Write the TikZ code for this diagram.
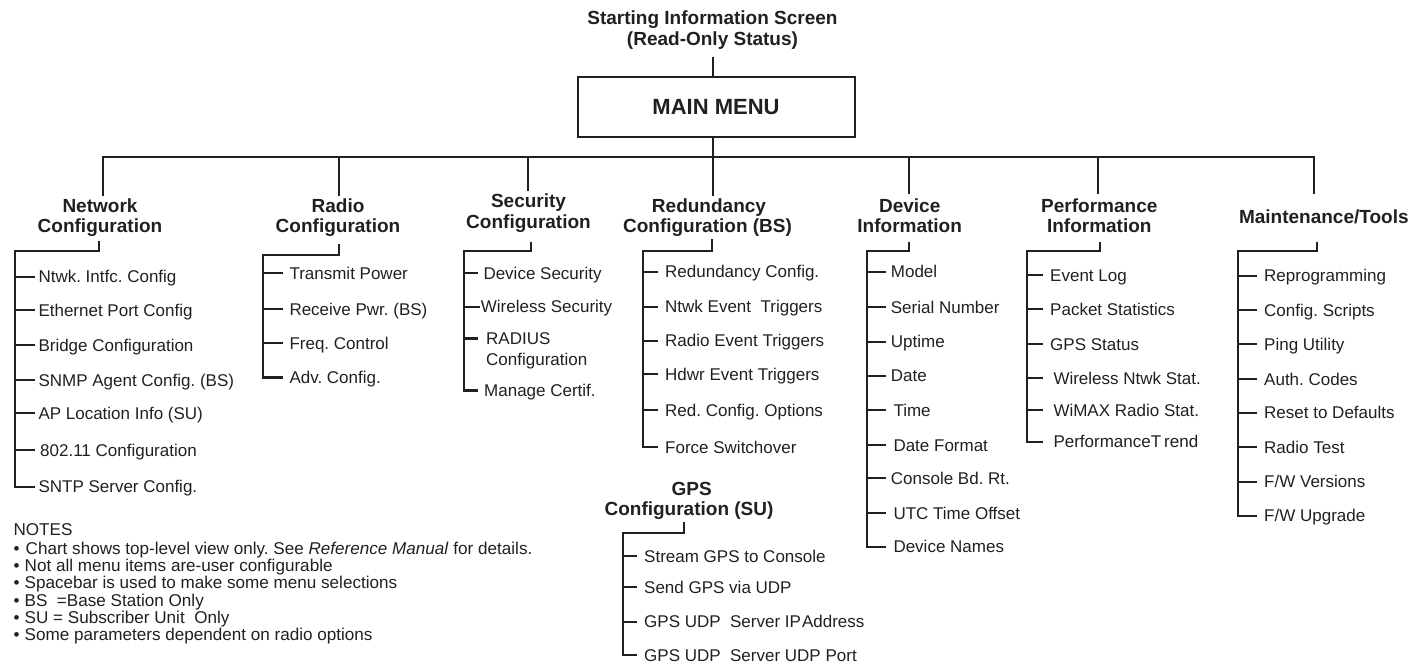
\documentclass[tikz,border=0pt]{standalone}
\usepackage{fontspec}
\setmainfont{Liberation Sans}
\definecolor{ink}{RGB}{35,31,32}
\frenchspacing
\begin{document}
\begin{tikzpicture}[x=1pt,y=-1pt,
  line/.style={draw=ink,line width=2.2pt,line join=miter},
  item/.style={anchor=west,inner sep=0pt,text height=12pt,text depth=0pt,font=\fontsize{17}{20}\selectfont,text=ink},
  hdr/.style={anchor=base,inner sep=0pt,font=\bfseries\fontsize{19}{20}\selectfont,text=ink},
  menubox/.style={draw=ink,line width=2pt,minimum width=277pt,minimum height=60pt,inner sep=0pt,font=\bfseries\fontsize{22}{24}\selectfont,text=ink},
  note/.style={anchor=base west,inner sep=0pt,font=\fontsize{17.1}{17.1}\selectfont,text=ink}
]
\useasboundingbox (0,0) rectangle (1427,667);

% title and main menu
\node[hdr] (t1) at (712.5,24) {Starting Information Screen};
\node[hdr] (t2) at (712.5,45.5) {(Read-Only Status)};
\node[menubox] (mm) at (716,106.7) {MAIN MENU};
\coordinate (tb) at (712.7,57);
\draw[line] (tb) -- (tb |- mm.north);
\coordinate (busC) at (712.7,157);
\draw[line] (busC |- mm.south) -- (712.7,196);

% bus and drops
\draw[line] (103,196) -- (103,157) -- (1314.3,157) -- (1314.3,194);
\draw[line] (338.8,157) -- (338.8,196);
\draw[line] (528,157) -- (528,191);
\draw[line] (908.8,157) -- (908.8,194);
\draw[line] (1097.8,157) -- (1097.8,194);

% headers
\node[hdr] (netA) at (100,212.3) {Network};
\node[hdr] (netB) at (100,232.7) {Configuration};
\node[hdr] (radA) at (338,212.3) {Radio};
\node[hdr] (radB) at (338,232.7) {Configuration};
\node[hdr] (secA) at (528.5,207.7) {Security};
\node[hdr] (secB) at (528.5,228) {Configuration};
\node[hdr] (redA) at (709,212.3) {Redundancy};
\node[hdr] (redB) at (707.5,232.7) {Configuration (BS)};
\node[hdr] (devA) at (909.7,212.3) {Device};
\node[hdr] (devB) at (909.7,232.7) {Information};
\node[hdr] (perA) at (1099.3,212.3) {Performance};
\node[hdr] (perB) at (1099.3,232.7) {Information};
\node[hdr] (mnt) at (1323.8,223.3) {Maintenance/Tools};
\node[hdr] (gpsA) at (691.7,495) {GPS};
\node[hdr] (gpsB) at (689,515) {Configuration (SU)};

% Network
\draw[line] (99,241) -- (99,250.7) -- (15,250.7) -- (15,486.7) -- (35,486.7);
\foreach \y/\t [count=\i] in {276.7/{Ntwk. Intfc. Config},310/{Ethernet Port Config},345/{Bridge Configuration},380/{SNMP Agent Config. (BS)},413.3/{AP Location Info (SU)},486.7/{SNTP Server Config.}}{
  \node[item] (net\i) at (38.3,\y) {\t};
  \draw[line] (15,\y) -- ([xshift=-3.3pt]net\i.west);
}
\node[item] (net7) at (40,450) {802.11 Configuration};
\draw[line] (15,450) -- ([xshift=-5pt]net7.west);

% Radio
\draw[line] (339.3,244) -- (339.3,255) -- (263.3,255) -- (263.3,377.5) -- (283.3,377.5);
\foreach \y/\t [count=\i] in {273.3/{Transmit Power},309/{Receive Pwr. (BS)},343.3/{Freq. Control}}{
  \node[item] (rad\i) at (289.3,\y) {\t};
  \draw[line] (263.3,\y) -- ([xshift=-6pt]rad\i.west);
}
\node[item] (rad4) at (289.3,377.5) {Adv. Config.};

% Security
\draw[line] (531,241.7) -- (531,250.7) -- (464.3,250.7) -- (464.3,390.5) -- (478,390.5);
\node[item] (sec1) at (483.3,273) {Device Security};
\draw[line] (464.3,273) -- ([xshift=-5pt]sec1.west);
\node[item] (sec2) at (480.7,306.7) {Wireless Security};
\draw[line] (464.3,306.7) -- ([xshift=-0.7pt]sec2.west);
\node[item] (sec3) at (486,338) {RADIUS};
\node[item] (sec3b) at (486,359.3) {Configuration};
\draw[line] (464.3,338.5) -- (478,338.5);
\node[item] (sec4) at (484,390.5) {Manage Certif.};

% Redundancy
\draw[line] (712.3,239.3) -- (712.3,250.7) -- (643.3,250.7) -- (643.3,447) -- (658.3,447);
\foreach \y/\t [count=\i] in {271.7/{Redundancy Config.},306.7/{Ntwk Event\ \ Triggers},340.7/{Radio Event Triggers},374/{Hdwr Event Triggers},410/{Red. Config. Options}}{
  \node[item] (red\i) at (665,\y) {\t};
  \draw[line] (643.3,\y) -- ([xshift=-6.7pt]red\i.west);
}
\node[item] (red6) at (665,447) {Force Switchover};

% Device
\draw[line] (909,241.7) -- (909,250.7) -- (867.3,250.7) -- (867.3,546.7) -- (886,546.7);
\foreach \x/\y/\t [count=\i] in {890.7/271.7/{Model},890.7/307.3/{Serial Number},890.7/341.7/{Uptime},890.7/375.7/{Date},893.3/410/{Time},893.3/445/{Date Format},890.7/478.3/{Console Bd. Rt.},893.3/513.3/{UTC Time Offset}}{
  \node[item] (dev\i) at (\x,\y) {\t};
  \draw[line] (867.3,\y) -- (886,\y);
}
\node[item] (dev9) at (893.3,546.7) {Device Names};

% Performance
\draw[line] (1100,241.7) -- (1100,250.7) -- (1026.7,250.7) -- (1026.7,441.7) -- (1043.3,441.7);
\foreach \x/\y/\t [count=\i] in {1050/275/{Event Log},1050/309.3/{Packet Statistics},1050/344/{GPS Status},1053.3/378.3/{Wireless Ntwk Stat.},1053.3/410/{WiMAX Radio Stat.}}{
  \node[item] (per\i) at (\x,\y) {\t};
  \draw[line] (1026.7,\y) -- (1043.3,\y);
}
\node[item] (per6) at (1053.3,441.7) {PerformanceT\kern3pt rend};

% Maintenance
\draw[line] (1316.7,241.7) -- (1316.7,250.7) -- (1237.7,250.7) -- (1237.7,515.7) -- (1257.3,515.7);
\foreach \y/\t [count=\i] in {275.7/{Reprogramming},310/{Config. Scripts},344/{Ping Utility},379/{Auth. Codes},412.7/{Reset to Defaults},447.3/{Radio Test},481.7/{F/W Versions}}{
  \node[item] (mnt\i) at (1264,\y) {\t};
  \draw[line] (1237.7,\y) -- ([xshift=-6.7pt]mnt\i.west);
}
\node[item] (mnt8) at (1264,515.7) {F/W Upgrade};

% GPS
\draw[line] (684.3,521.7) -- (684.3,533.3) -- (623.3,533.3) -- (623.3,655) -- (636.7,655);
\foreach \y/\t [count=\i] in {556/{Stream GPS to Console},587.3/{Send GPS via UDP},621.7/{GPS UDP\ \ Server IP\kern1pt Address}}{
  \node[item] (gps\i) at (644,\y) {\t};
  \draw[line] (623.3,\y) -- ([xshift=-7.3pt]gps\i.west);
}
\node[item] (gps4) at (644,655) {GPS UDP\ \ Server UDP Port};

% notes
\node[note] (nt) at (13.3,535) {NOTES};
\node[note] (n1) at (13.5,554) {\textbullet\hspace{6pt}Chart shows top-level view only. See \textit{Reference Manual} for details.};
\node[note] (n2) at (13.5,571) {\textbullet\hspace{5pt}Not all menu items are-user configurable};
\node[note] (n3) at (13.5,588.3) {\textbullet\hspace{5pt}Spacebar is used to make some menu selections};
\node[note] (n4) at (13.5,606) {\textbullet\hspace{5pt}BS\ \ =Base Station Only};
\node[note] (n5) at (13.5,623.3) {\textbullet\hspace{5pt}SU = Subscriber Unit\ \ Only};
\node[note] (n6) at (13.5,640.7) {\textbullet\hspace{5pt}Some parameters dependent on radio options};
\end{tikzpicture}
\end{document}
